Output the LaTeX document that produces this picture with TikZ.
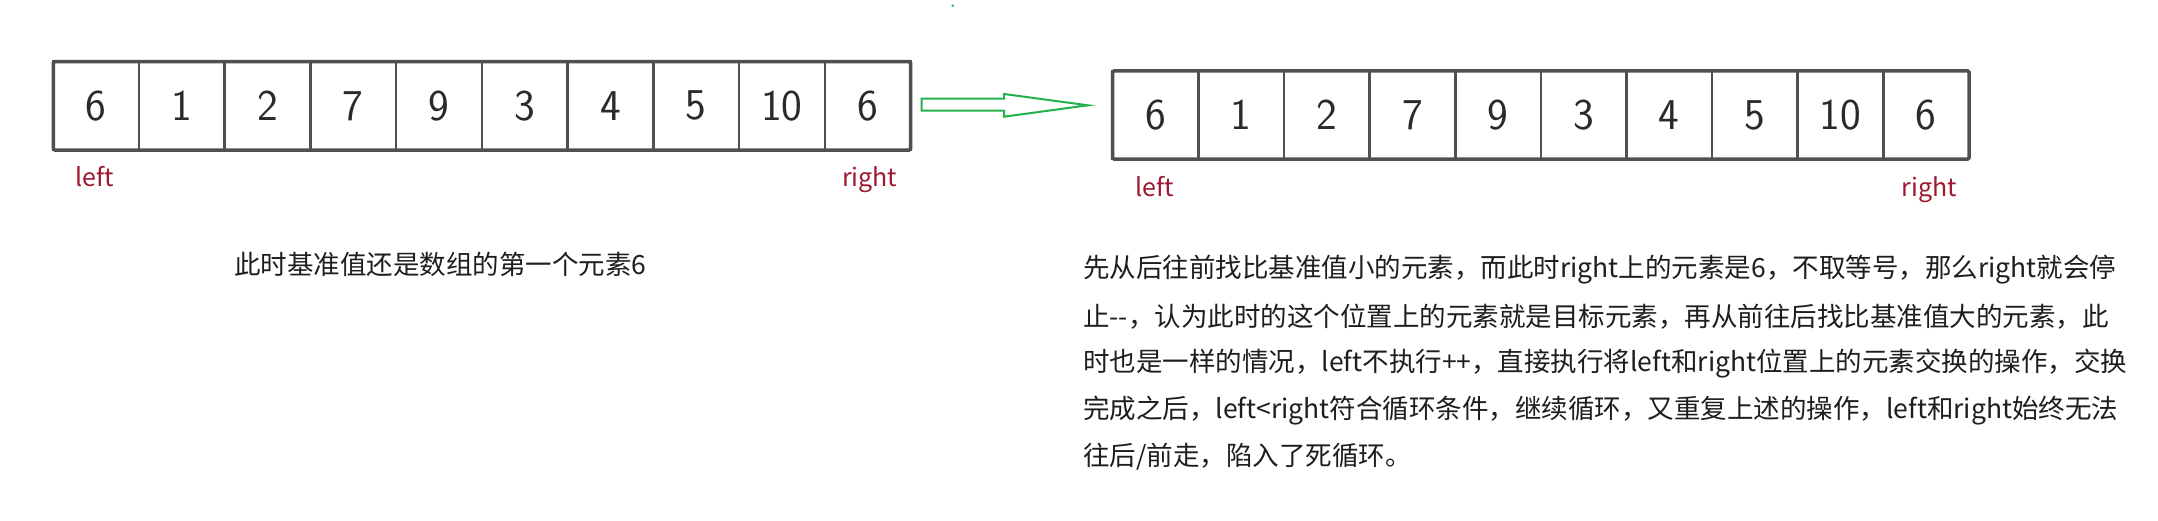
\documentclass[tikz,border=0pt]{standalone}
\usepackage{fontspec}
\newfontfamily\cjk{Noto Sans CJK SC}
\definecolor{cellline}{HTML}{505050}
\definecolor{lblred}{HTML}{9E1830}
\definecolor{arrowgreen}{HTML}{22B14C}
\definecolor{textcol}{HTML}{1E1E1E}
\definecolor{digitcol}{HTML}{2A2A2A}
\newcommand\digitfont{\sffamily\fontsize{44}{50}\selectfont}
\tikzset{
  cellbox/.style={draw=cellline, line width=2.5pt, minimum width=85.7pt, minimum height=88.4pt,
    inner sep=0pt, outer sep=0pt, font=\digitfont, text=digitcol},
  arrframe/.style={draw=cellline, line width=3.5pt, rounded corners=1.5pt},
  ptrlabel/.style={text=lblred, font=\cjk\fontsize{25}{30}\selectfont, inner sep=0pt},
  capnote/.style={text=textcol, font=\cjk\fontsize{26.5}{30}\selectfont, inner sep=0pt, anchor=west},
  para/.style={text=textcol, font=\cjk\fontsize{26.5}{30}\selectfont, inner sep=0pt, anchor=west},
  bigarrow/.style={draw=arrowgreen, line width=2pt, line join=miter},
}
\begin{document}
\begin{tikzpicture}[x=1pt,y=-1pt]
\fill[white] (0,0) rectangle (2158,521);
\useasboundingbox (0,0) rectangle (2158,521);

% left array
\foreach \v [count=\i] in {6,1,2,7,9,3,4,5,10,6}
  \node[cellbox] (L\i) at ({53.3+85.72*(\i-0.5)},105.85) {\v};
\draw[arrframe] (L1.north west) rectangle (L10.south east);
\node[ptrlabel, anchor=base west] (lleft) at (75.5,186.7) {left};
\node[ptrlabel, anchor=base east] (lright) at (897.5,186.7) {right};

% right array
\foreach \v [count=\i] in {6,1,2,7,9,3,4,5,10,6}
  \node[cellbox] (R\i) at ({1112.7+85.63*(\i-0.5)},115) {\v};
\draw[arrframe] (R1.north west) rectangle (R10.south east);
\node[ptrlabel, anchor=base west] (rleft) at (1135.5,196.7) {left};
\node[ptrlabel, anchor=base east] (rright) at (1957,196.7) {right};

% green arrow
\draw[bigarrow] (921.7,98.7) -- (1004,98.7) -- (1004,94) -- (1088,105.3)
  -- (1004,116.7) -- (1004,110.7) -- (921.7,110.7) -- cycle;
\fill[arrowgreen] (952.7,5.7) circle (1.4pt);

% captions
\node[capnote] (cap) at (234,264) {此时基准值还是数组的第一个元素6};
\node[para] (p1) at (1083,270) {先从后往前找比基准值小的元素，而此时right上的元素是6，不取等号，那么right就会停};
\node[para] (p2) at (1083,316.75) {止--，认为此时的这个位置上的元素就是目标元素，再从前往后找比基准值大的元素，此};
\node[para] (p3) at (1083,363.5) {时也是一样的情况，left不执行++，直接执行将left和right位置上的元素交换的操作，交换};
\node[para] (p4) at (1083,410.25) {完成之后，left<right符合循环条件，继续循环，又重复上述的操作，left和right始终无法};
\node[para] (p5) at (1083,457) {往后/前走，陷入了死循环。};
\end{tikzpicture}
\end{document}
